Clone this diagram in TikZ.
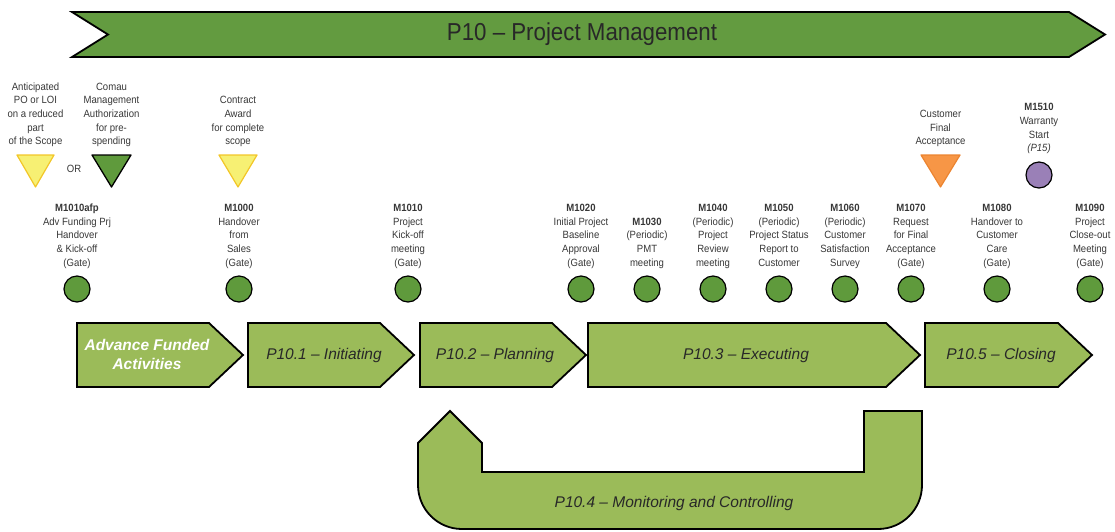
\documentclass[tikz,border=0pt]{standalone}
\usepackage{fontspec}
\setmainfont{Liberation Sans}
\newfontfamily\narrowfont{Liberation Sans}[FakeStretch=0.91]
\usepackage{xcolor}
\usetikzlibrary{positioning}

\definecolor{bannergreen}{RGB}{99,155,64}
\definecolor{phasegreen}{RGB}{155,187,89}
\definecolor{gategreen}{RGB}{95,154,60}
\definecolor{lightyellow}{RGB}{247,240,115}
\definecolor{goldline}{RGB}{242,198,40}
\definecolor{acceptorange}{RGB}{247,150,70}
\definecolor{orangeline}{RGB}{236,132,48}
\definecolor{warrantypurple}{RGB}{154,128,183}
\definecolor{labelgray}{RGB}{55,55,55}
\definecolor{textdark}{RGB}{40,40,40}

\tikzset{
  banner/.style={draw=black, line width=1.8pt, fill=bannergreen},
  phase/.style={draw=black, line width=1.8pt, fill=phasegreen},
  phasetext/.style={font=\fontsize{15.5}{19}\selectfont\itshape, text=textdark, inner sep=0pt},
  gate/.style={circle, draw=black, line width=1.2pt, fill=gategreen, minimum size=26pt, inner sep=0pt},
  mlabel/.style={font=\narrowfont\fontsize{10.5}{13.6}\selectfont, text=labelgray, align=center, inner sep=0pt},
  yellowtri/.style={draw=goldline, line width=1.2pt, fill=lightyellow, line join=round},
}

\begin{document}
\begin{tikzpicture}[x=1pt,y=-1pt]
\useasboundingbox (0,0) rectangle (1115,531);

\draw[banner] (72,12) -- (1069,12) -- (1105,34.5) -- (1069,57) -- (72,57) -- (108,34.5) -- cycle;
\node[font=\narrowfont\fontsize{24.5}{29}\selectfont, text=textdark] (p10) at (582,34.5) {P10 – Project Management};

\draw[yellowtri] (17,155) -- (54,155) -- (35.5,187) -- cycle;
\node[mlabel, anchor=south] (anticipated) at (35.5,149) {Anticipated\\PO or LOI\\on a reduced\\part\\of the Scope\strut};
\node[mlabel] (or) at (74,169) {OR};
\draw[draw=black, line width=1.3pt, fill=gategreen, line join=round] (92,155) -- (131,155) -- (111.5,187) -- cycle;
\node[mlabel, anchor=south] (authorization) at (111.5,149) {Comau\\Management\\Authorization\\for pre-\\spending\strut};
\draw[yellowtri] (219,155) -- (257,155) -- (238,187) -- cycle;
\node[mlabel, anchor=south] (award) at (238,149) {Contract\\Award\\for complete\\scope\strut};
\draw[yellowtri, draw=orangeline, fill=acceptorange] (921,155) -- (960,155) -- (940.5,187) -- cycle;
\node[mlabel, anchor=south] (acceptance) at (940.5,149) {Customer\\Final\\Acceptance\strut};
\node[gate, fill=warrantypurple] (m1510) at (1039,175) {};
\node[mlabel, above=5.5pt of m1510] (m1510-text) {\textbf{M1510}\\Warranty\\Start\\\textit{(P15)}\strut};

\foreach \x/\n/\txt in {
  77/m1010afp/{\textbf{M1010afp}\\Adv Funding Prj\\Handover\\\& Kick-off\\(Gate)},
  239/m1000/{\textbf{M1000}\\Handover\\from\\Sales\\(Gate)},
  408/m1010/{\textbf{M1010}\\Project\\Kick-off\\meeting\\(Gate)},
  581/m1020/{\textbf{M1020}\\Initial Project\\Baseline\\Approval\\(Gate)},
  647/m1030/{\textbf{M1030}\\(Periodic)\\PMT\\meeting},
  713/m1040/{\textbf{M1040}\\(Periodic)\\Project\\Review\\meeting},
  779/m1050/{\textbf{M1050}\\(Periodic)\\Project Status\\Report to\\Customer},
  845/m1060/{\textbf{M1060}\\(Periodic)\\Customer\\Satisfaction\\Survey},
  911/m1070/{\textbf{M1070}\\Request\\for Final\\Acceptance\\(Gate)},
  997/m1080/{\textbf{M1080}\\Handover to\\Customer\\Care\\(Gate)},
  1090/m1090/{\textbf{M1090}\\Project\\Close-out\\Meeting\\(Gate)}}{
  \node[gate] (\n) at (\x,289) {};
  \node[mlabel, above=5pt of \n] (\n-text) {\txt\strut};
}

\draw[phase] (77,323) -- (209,323) -- (243,355) -- (209,387) -- (77,387) -- cycle;
\node[phasetext, font=\fontsize{15.5}{19}\selectfont\bfseries\itshape, text=white, align=center] (advance) at (147,354.5) {Advance Funded\\Activities};
\draw[phase] (248,323) -- (380,323) -- (414,355) -- (380,387) -- (248,387) -- cycle;
\node[phasetext] (initiating) at (324,355) {P10.1 – Initiating};
\draw[phase] (420,323) -- (552,323) -- (586,355) -- (552,387) -- (420,387) -- cycle;
\node[phasetext] (planning) at (495,355) {P10.2 – Planning};
\draw[phase] (588,323) -- (886,323) -- (920,355) -- (886,387) -- (588,387) -- cycle;
\node[phasetext] (executing) at (746,355) {P10.3 – Executing};
\draw[phase] (925,323) -- (1058,323) -- (1092,355) -- (1058,387) -- (925,387) -- cycle;
\node[phasetext] (closing) at (1001,355) {P10.5 – Closing};

\draw[phase] (450,411) -- (482,443) -- (482,472) -- (864,472) -- (864,411) -- (922,411) [rounded corners=44pt] -- (922,529) -- (418,529) [sharp corners] -- (418,443) -- cycle;
\node[phasetext] (monitoring) at (674,503) {P10.4 – Monitoring and Controlling};
\end{tikzpicture}
\end{document}
